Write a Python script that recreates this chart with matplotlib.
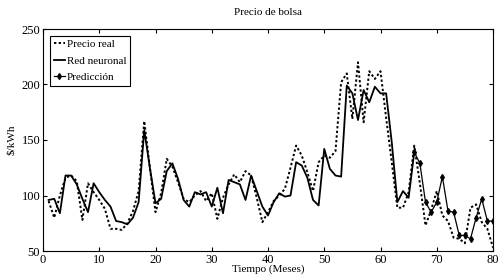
import matplotlib.pyplot as plt

plt.rcParams['font.family'] = ['Liberation Serif', 'DejaVu Serif']

# meses 1..66 para la red, 66..80 para la prediccion
meses_real = list(range(1, 81))
precio_real = [95, 80, 100, 116, 118, 113, 78, 111, 103, 96,
               88, 70, 70, 69, 75, 86, 104, 167, 125, 85,
               102, 133, 126, 112, 97, 94, 100, 104, 95, 102,
               79, 98, 110, 119, 112, 122, 118, 98, 76, 85,
               95, 100, 106, 125, 145, 136, 121, 104, 130, 136,
               134, 140, 202, 210, 169, 220, 166, 212, 205, 212,
               170, 130, 89, 89, 103, 145, 111, 73, 87, 104,
               82, 77, 62, 61, 57, 89, 92, 76, 70, 53]

meses_red = list(range(1, 67))
red_neuronal = [96, 97, 84, 118, 118, 110, 97, 85, 111, 103,
                96, 90, 77, 76, 74, 80, 94, 159, 125, 93,
                97, 122, 129, 115, 96, 90, 103, 101, 103, 90,
                107, 84, 114, 112, 110, 96, 118, 104, 90, 82,
                94, 102, 99, 100, 130, 127, 116, 96, 91, 142,
                124, 118, 117, 199, 192, 168, 195, 184, 198, 192,
                192, 148, 94, 104, 98, 139]

meses_pred = list(range(66, 81))
prediccion = [139, 129, 94, 85, 94, 117, 86, 85, 64, 64,
              61, 80, 97, 77, 77]

fig = plt.figure(figsize=(4.98, 2.77), dpi=100)
ax = fig.add_axes([43 / 498, 26 / 277, 450 / 498, 222 / 277])

ax.plot(meses_real, precio_real, color='black', linestyle=(0, (1.2, 1.2)),
        linewidth=1.4, label='Precio real')
ax.plot(meses_red, red_neuronal, color='black', linestyle='-', linewidth=1.3,
        label='Red neuronal')
ax.plot(meses_pred, prediccion, color='black', linestyle='-', linewidth=0.9,
        marker='d', markersize=3, label='Predicción')

ax.set_xlim(0, 80)
ax.set_ylim(50, 250)
ax.set_xticks(range(0, 81, 10))
ax.set_yticks(range(50, 251, 50))
ax.tick_params(direction='in', top=True, right=True, labelsize=9, length=3,
               pad=2)
for s in ax.spines.values():
    s.set_linewidth(0.8)

ax.set_title('Precio de bolsa', fontsize=8, pad=10)
ax.set_xlabel('Tiempo (Meses)', fontsize=8, labelpad=-1)
ax.set_ylabel('$/kWh', fontsize=8, labelpad=4)

leg = ax.legend(loc='upper left', fontsize=8, fancybox=False, framealpha=1,
                edgecolor='black', handlelength=1.0, handletextpad=0.2,
                borderpad=0.35, labelspacing=0.6, borderaxespad=0.6)
leg.get_frame().set_linewidth(0.8)

fig.savefig('out.png', dpi=100)
